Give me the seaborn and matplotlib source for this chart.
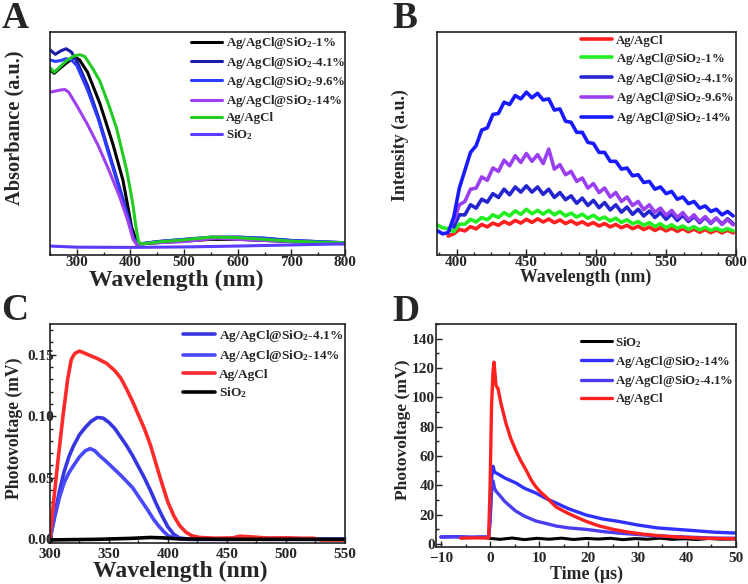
import numpy as np
import matplotlib
matplotlib.use("Agg")
import matplotlib.pyplot as plt
from matplotlib.ticker import MultipleLocator, FormatStrFormatter
import seaborn as sns

# ---------- panel A: UV-vis absorbance ----------
a_black_x = [250, 258, 265, 280, 296, 305, 320, 343, 367, 386, 395, 402, 412, 420, 450, 500, 550, 600, 650, 700, 725]
a_black_y = [0.83, 0.815, 0.83, 0.86, 0.888, 0.875, 0.82, 0.68, 0.50, 0.336, 0.22, 0.126, 0.058, 0.05, 0.055, 0.062, 0.07, 0.07, 0.065, 0.06, 0.058]
a_blue_x = [250, 260, 270, 280, 290, 300, 320, 340, 360, 380, 395, 405, 412, 420, 450, 500, 550, 600, 650, 700, 750, 800]
a_41_y = [0.92, 0.90, 0.915, 0.925, 0.91, 0.87, 0.76, 0.62, 0.46, 0.30, 0.18, 0.08, 0.05, 0.05, 0.06, 0.07, 0.08, 0.08, 0.075, 0.065, 0.06, 0.055]
a_96_y = [0.875, 0.868, 0.872, 0.88, 0.875, 0.85, 0.74, 0.61, 0.45, 0.29, 0.17, 0.08, 0.05, 0.05, 0.06, 0.07, 0.078, 0.08, 0.075, 0.065, 0.06, 0.055]
a_14_x = [250, 260, 270, 278, 285, 300, 320, 340, 360, 380, 395, 405, 412, 420, 450, 500, 560, 600, 650, 700, 750, 800]
a_14_y = [0.73, 0.735, 0.74, 0.742, 0.73, 0.67, 0.585, 0.49, 0.38, 0.26, 0.155, 0.07, 0.045, 0.05, 0.055, 0.06, 0.075, 0.07, 0.065, 0.06, 0.055, 0.05]
a_green_x = [250, 258, 265, 280, 295, 306, 315, 330, 343, 360, 374, 385, 393, 400, 405, 410, 415, 420, 430, 450, 500, 550, 600, 650, 700, 750, 800]
a_green_y = [0.84, 0.82, 0.835, 0.87, 0.893, 0.898, 0.89, 0.835, 0.78, 0.67, 0.57, 0.46, 0.38, 0.29, 0.22, 0.13, 0.06, 0.048, 0.052, 0.058, 0.068, 0.08, 0.078, 0.07, 0.062, 0.057, 0.055]
a_sio2_x = [250, 300, 400, 500, 600, 700, 800]
a_sio2_y = [0.04, 0.035, 0.034, 0.036, 0.04, 0.045, 0.05]

# ---------- panel B: PL spectra ----------
b_wl = [386, 390, 394, 398, 402, 406, 410, 414, 418, 422, 426, 430, 434, 438, 442, 446, 450, 454,
        458, 462, 466, 470, 474, 478, 482, 486, 490, 494, 498, 502, 506, 510, 514, 518, 522, 526,
        530, 534, 538, 542, 546, 550, 554, 558, 562, 566, 570, 574, 578, 582, 586, 590, 594, 598]
nan = np.nan
b_agcl = [nan, nan, 0.085, 0.095, 0.115, 0.108, 0.127, 0.117, 0.137, 0.126, 0.143, 0.133,
          0.15, 0.138, 0.155, 0.143, 0.16, 0.146, 0.162, 0.148, 0.161, 0.145,
          0.157, 0.141, 0.153, 0.138, 0.149, 0.134, 0.145, 0.13, 0.141, 0.126,
          0.137, 0.122, 0.133, 0.118, 0.129, 0.114, 0.125, 0.11, 0.122, 0.108,
          0.12, 0.106, 0.118, 0.104, 0.116, 0.102, 0.114, 0.1, 0.112, 0.099, 0.111, 0.099]
b_1 = [0.135, 0.122, 0.118, 0.105, 0.138, 0.138, 0.16, 0.148, 0.168, 0.158,
       0.18, 0.168, 0.19, 0.175, 0.198, 0.182, 0.205, 0.185, 0.2, 0.183,
       0.2, 0.18, 0.195, 0.175, 0.188, 0.17, 0.183, 0.165, 0.178, 0.16,
       0.17, 0.152, 0.165, 0.146, 0.158, 0.14, 0.15, 0.133, 0.145, 0.128,
       0.14, 0.122, 0.135, 0.12, 0.13, 0.115, 0.127, 0.112, 0.124, 0.11,
       0.12, 0.108, 0.118, 0.108]
b_41 = [nan, nan, nan, 0.125, 0.18, 0.18, 0.225, 0.21, 0.25, 0.237, 0.275, 0.258,
        0.295, 0.27, 0.305, 0.282, 0.31, 0.282, 0.305, 0.272, 0.295,
        0.258, 0.28, 0.248, 0.265, 0.232, 0.255, 0.222, 0.245, 0.212,
        0.235, 0.202, 0.225, 0.192, 0.215, 0.182, 0.205, 0.175, 0.197,
        0.168, 0.19, 0.16, 0.185, 0.155, 0.178, 0.15, 0.173, 0.145,
        0.168, 0.142, 0.165, 0.138, 0.162, 0.14]
b_96 = [nan, nan, nan, 0.15, 0.225, 0.24, 0.295, 0.30, 0.35, 0.335, 0.39, 0.375,
        0.425, 0.40, 0.445, 0.415, 0.455, 0.42, 0.45, 0.41, 0.475,
        0.385, 0.405, 0.36, 0.375, 0.33, 0.345, 0.30, 0.32, 0.28,
        0.30, 0.26, 0.28, 0.24, 0.26, 0.222, 0.24, 0.203, 0.225,
        0.192, 0.21, 0.178, 0.2, 0.168, 0.19, 0.158, 0.18, 0.15,
        0.172, 0.145, 0.165, 0.138, 0.158, 0.135]
b_14 = [0.11, 0.095, 0.10, 0.17, 0.30, 0.38, 0.46, 0.49, 0.56, 0.57,
        0.63, 0.635, 0.685, 0.675, 0.715, 0.70, 0.73, 0.705, 0.725, 0.695,
        0.70, 0.65, 0.655, 0.60, 0.595, 0.55, 0.55, 0.505, 0.50, 0.46,
        0.46, 0.42, 0.42, 0.385, 0.39, 0.355, 0.36, 0.325, 0.33, 0.295,
        0.305, 0.275, 0.285, 0.25, 0.26, 0.23, 0.24, 0.21, 0.22, 0.195,
        0.205, 0.18, 0.195, 0.175]

# ---------- panel C: surface photovoltage ----------
c_41_x = [300, 304, 308, 312, 316, 320, 325, 330, 335, 340, 345, 350, 355, 360, 365, 370, 375, 380, 385, 390, 395, 400, 405, 410, 420, 450, 465, 480, 550]
c_41_y = [0.0, 0.02, 0.039, 0.055, 0.067, 0.076, 0.085, 0.091, 0.096, 0.099, 0.0985, 0.095, 0.09, 0.083, 0.076, 0.068, 0.059, 0.05, 0.04, 0.029, 0.019, 0.01, 0.004, 0.001, 0.0, 0.0, 0.001, 0.0, 0.0]
c_14_x = [300, 304, 308, 312, 316, 320, 325, 330, 334, 338, 342, 348, 354, 360, 365, 370, 376, 382, 388, 392, 396, 400, 405, 416, 460, 470, 550]
c_14_y = [0.0, 0.018, 0.034, 0.046, 0.054, 0.06, 0.067, 0.072, 0.0737, 0.072, 0.068, 0.063, 0.0575, 0.052, 0.047, 0.042, 0.0335, 0.025, 0.016, 0.011, 0.0067, 0.003, 0.0013, 0.0, 0.0, 0.001, 0.0]
c_agcl_x = [300, 303, 307, 311, 315, 318, 321, 325, 330, 335, 340, 348, 355, 360, 365, 370, 375, 380, 385, 390, 395, 400, 405, 410, 415, 420, 427, 440, 455, 461, 470, 485, 500, 515, 523, 530, 550]
c_agcl_y = [0.0, 0.03, 0.066, 0.10, 0.13, 0.146, 0.151, 0.153, 0.151, 0.149, 0.147, 0.143, 0.137, 0.131, 0.122, 0.112, 0.101, 0.09, 0.077, 0.061, 0.045, 0.03, 0.019, 0.011, 0.006, 0.003, 0.0015, 0.0009, 0.0012, 0.0025, 0.002, 0.001, 0.0012, 0.0008, 0.0009, -0.0005, -0.0005]
c_sio2_x = [300, 340, 370, 385, 395, 410, 450, 500, 550]
c_sio2_y = [-0.0005, 0.0, 0.0008, 0.0015, 0.0012, 0.0003, 0.0, 0.0, 0.0]

# ---------- panel D: transient photovoltage ----------
d_sio2_t = [-0.5, 2, 4.5, 7, 9.5, 12, 14.5, 17, 19.5, 22, 24.5, 27, 29.5, 32, 34.5, 37, 39.5, 42, 44.5, 47, 50]
d_sio2_v = [4.0, 3.2, 4.1, 3.0, 3.9, 3.3, 4.0, 3.1, 3.8, 3.4, 3.9, 3.0, 3.7, 3.3, 4.0, 3.2, 3.6, 3.1, 3.8, 3.3, 3.5]
d_blue_t = [-10, -7, -4, -1, -0.3, 0.0, 0.3, 0.6, 0.9, 1.2, 2, 3, 4, 5.2, 7, 9.3, 11.4, 13.4, 16, 19.5, 23, 26, 30, 34, 38, 42, 46, 50]
d_14_v = [4.8, 5.0, 4.6, 4.8, 4.6, 20, 45, 53, 49, 48.5, 47, 45, 43.5, 41.7, 38, 34.8, 31, 28, 24, 19.8, 17, 15.5, 13, 11, 10, 9, 8, 7.5]
d_41_v = [4.8, 5.0, 4.6, 4.8, 4.6, 15, 36, 43, 38, 36, 33, 29, 26, 22.5, 19, 15.7, 14, 12.3, 11, 10, 8.5, 7.5, 6.5, 5.5, 5, 4.5, 4, 4]
d_agcl_t = [-6, -3, -0.3, 0.0, 0.3, 0.6, 0.8, 1.0, 1.2, 1.6, 2.2, 3.2, 4.2, 5.2, 6.2, 7.3, 8.3, 9.3, 10.4, 11.4, 13.4, 15.5, 17.5, 19.5, 22, 25, 28, 31, 34, 37, 40, 43, 46, 50]
d_agcl_v = [4.0, 4.2, 4.1, 40, 95, 118, 124, 116, 108, 106, 96, 82.6, 72, 64, 57, 50.5, 44, 39, 35, 32, 25.3, 21.5, 18.4, 15.5, 12.5, 10, 8.2, 6.8, 5.8, 5.0, 4.5, 4.0, 3.8, 3.6]

L1 = "Ag/AgCl@SiO$_2$-1%"
L41 = "Ag/AgCl@SiO$_2$-4.1%"
L96 = "Ag/AgCl@SiO$_2$-9.6%"
L14 = "Ag/AgCl@SiO$_2$-14%"
LAG = "Ag/AgCl"
LSI = "SiO$_2$"

sns.set_theme(style="ticks")
plt.rcParams["font.family"] = ["Liberation Serif", "DejaVu Serif"]
plt.rcParams["font.weight"] = "bold"
plt.rcParams["axes.labelweight"] = "bold"
plt.rcParams["mathtext.fontset"] = "custom"
plt.rcParams["mathtext.rm"] = "Liberation Serif:bold"
plt.rcParams["mathtext.it"] = "Liberation Serif:bold"
plt.rcParams["mathtext.bf"] = "Liberation Serif:bold"

fig = plt.figure(figsize=(7.48, 5.84), dpi=100)
axA = fig.add_axes([0.0668, 0.5634, 0.3944, 0.3818])
axB = fig.add_axes([0.5842, 0.5634, 0.3997, 0.3818])
axC = fig.add_axes([0.0668, 0.0702, 0.3944, 0.3750])
axD = fig.add_axes([0.5829, 0.0634, 0.4010, 0.3818])


def line(ax, x, y, color, label, lw=2.2):
    sns.lineplot(x=x, y=y, ax=ax, color=color, linewidth=lw, label=label,
                 estimator=None, sort=False)


def style(ax, xlim, ylim, xmaj, xmin, ymaj=None, ymin=None, ypad=1, xpad=1):
    ax.set_xlim(*xlim)
    ax.set_ylim(*ylim)
    ax.xaxis.set_major_locator(MultipleLocator(xmaj))
    ax.xaxis.set_minor_locator(MultipleLocator(xmin))
    if ymaj is None:
        ax.set_yticks([])
    else:
        ax.yaxis.set_major_locator(MultipleLocator(ymaj))
        ax.yaxis.set_minor_locator(MultipleLocator(ymin))
    ax.tick_params(which="both", direction="in", width=1, labelsize=11, color="#222222")
    ax.tick_params(axis="x", pad=xpad)
    ax.tick_params(axis="y", pad=ypad)
    ax.tick_params(which="major", length=4)
    ax.tick_params(which="minor", length=2.5)
    for s in ax.spines.values():
        s.set_linewidth(1.2)
        s.set_color("#222222")


def labels(ax, xl, yl, xfs, yfs, xpos, ypos):
    ax.set_xlabel(xl, fontsize=xfs)
    ax.set_ylabel(yl, fontsize=yfs)
    ax.xaxis.set_label_coords(*xpos)
    ax.yaxis.set_label_coords(*ypos)
    for t in ax.get_xticklabels() + ax.get_yticklabels():
        t.set_fontweight("bold")


def legend(ax, x, y, fs, sp):
    ax.legend(loc="upper left", bbox_to_anchor=(x, y), frameon=False, fontsize=fs,
              handlelength=2.4, handletextpad=0.3, labelspacing=sp,
              borderpad=0, borderaxespad=0)


# A
line(axA, a_black_x, a_black_y, "#000000", L1)
line(axA, a_blue_x, a_41_y, "#1c1caa", L41)
line(axA, a_blue_x, a_96_y, "#2a3cff", L96)
line(axA, a_14_x, a_14_y, "#a040ee", L14)
line(axA, a_green_x, a_green_y, "#22cc22", LAG)
line(axA, a_sio2_x, a_sio2_y, "#5a3cff", LSI)
style(axA, (250, 800), (0, 1), 100, 50)
labels(axA, "Wavelength (nm)", "Absorbance (a.u.)", 17, 14.7, (0.427, -0.068), (-0.085, 0.57))
legend(axA, 0.478, 0.985, 9.3, 0.25)

# B
line(axB, b_wl, b_agcl, "#ff2020", LAG, 2.6)
line(axB, b_wl, b_1, "#22ee22", L1, 2.6)
line(axB, b_wl, b_41, "#2525d0", L41, 2.6)
line(axB, b_wl, b_96, "#9b40f0", L96, 2.6)
line(axB, b_wl, b_14, "#1a1aff", L14, 2.6)
style(axB, (386, 600), (0, 1), 50, 12.5)
labels(axB, "Wavelength (nm)", "Intensity (a.u.)", 12.8, 12.9, (0.498, -0.06), (-0.094, 0.493))
legend(axB, 0.482, 0.987, 9.2, 0.3)

# C
line(axC, c_41_x, c_41_y, "#3636e0", L41, 2.6)
line(axC, c_14_x, c_14_y, "#4848ff", L14, 2.6)
line(axC, c_agcl_x, c_agcl_y, "#ff2a2a", LAG, 2.6)
line(axC, c_sio2_x, c_sio2_y, "#000000", LSI, 2.6)
style(axC, (300, 550), (-0.003, 0.175), 50, 25, 0.05, 0.01, ypad=-3, xpad=3.5)
axC.yaxis.set_major_formatter(FormatStrFormatter("%.2f"))
labels(axC, "Wavelength (nm)", "Photovoltage (mV)", 17, 12.7, (0.44, -0.08), (-0.092, 0.523))
legend(axC, 0.451, 0.982, 9.6, 0.33)

# D
line(axD, d_sio2_t, d_sio2_v, "#000000", LSI, 2.2)
line(axD, d_blue_t, d_14_v, "#3030ff", L14, 2.4)
line(axD, d_blue_t, d_41_v, "#4a3cf0", L41, 2.4)
line(axD, d_agcl_t, d_agcl_v, "#ff2020", LAG, 2.4)
style(axD, (-11, 50), (-2, 150), 10, 5, 20, 10, ypad=1, xpad=3.5)
labels(axD, "Time (\u00b5s)", "Photovoltage (mV)", 12.9, 12.6, (0.503, -0.085), (-0.083, 0.525))
legend(axD, 0.483, 0.951, 9.2, 0.3)

for lab, x, y in [("A", 0.002, 0.998), ("B", 0.525, 0.998), ("C", 0.002, 0.498), ("D", 0.525, 0.496)]:
    fig.text(x, y, lab, fontsize=27, fontweight="bold", va="top", ha="left")

fig.savefig("out.png", dpi=100, facecolor="white")
